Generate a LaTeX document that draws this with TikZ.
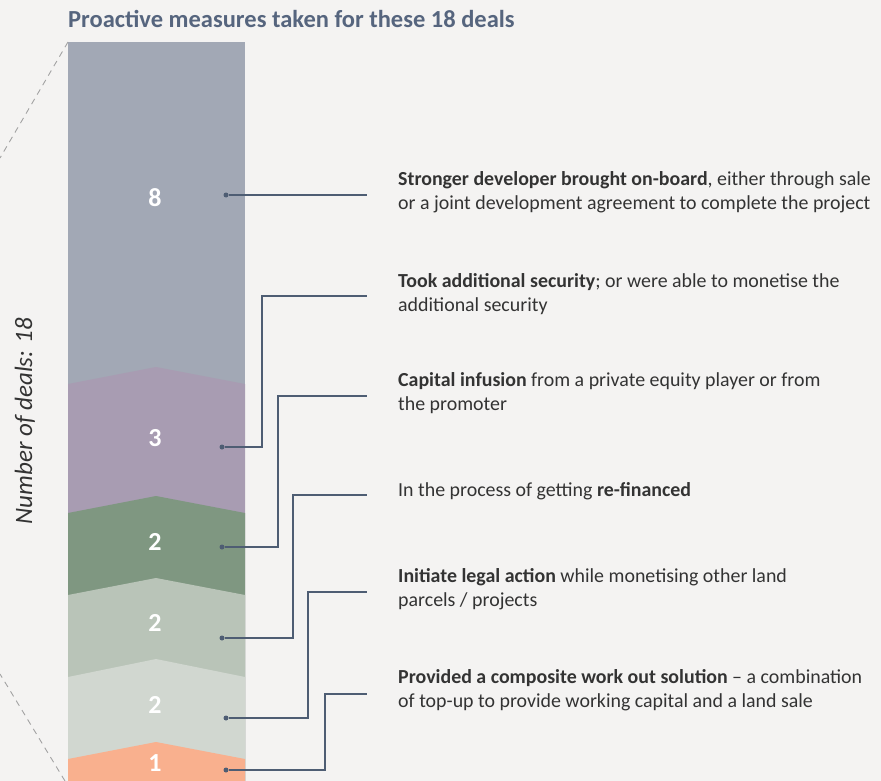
\documentclass[tikz,border=0pt]{standalone}
\usepackage{fontspec}
\setmainfont{Carlito}
\usetikzlibrary{calc,positioning}

\definecolor{bgcol}{HTML}{F4F3F2}
\definecolor{titlecol}{HTML}{56657E}
\definecolor{txtcol}{HTML}{333333}
\definecolor{linkcol}{HTML}{4E5D73}
\definecolor{guidecol}{HTML}{A3A3A3}
\definecolor{segA}{HTML}{A2A8B5}
\definecolor{segB}{HTML}{A89CB2}
\definecolor{segC}{HTML}{7F9781}
\definecolor{segD}{HTML}{B9C4B8}
\definecolor{segE}{HTML}{D1D7D0}
\definecolor{segF}{HTML}{F9B08E}

\tikzset{
  count/.style={text=white,font=\fontsize{26}{26}\selectfont\bfseries,inner sep=0pt},
  dot/.style={circle,fill=linkcol,inner sep=0pt,minimum size=5pt},
  link/.style={draw=linkcol,line width=1.5pt},
  item/.style={text=txtcol,font=\fontsize{19.9}{24}\selectfont,align=left,anchor=base west,inner sep=0pt},
  guide/.style={draw=guidecol,line width=0.9pt,dash pattern=on 6pt off 5pt}
}

\begin{document}
\begin{tikzpicture}[x=1pt,y=-1pt]

\useasboundingbox (0,0) rectangle (881,781);
\fill[bgcol] (0,0) rectangle (881,781);

\node[anchor=base west,inner sep=0pt,text=titlecol,font=\fontsize{24.5}{24.5}\selectfont\bfseries] (title) at (68,28) {Proactive measures taken for these 18 deals};

%the bar, each chevron laid over the one above it
\fill[segA] (68,42) rectangle (245,781);
\fill[segB] (68,384) -- (156,367) -- (245,384) -- (245,781) -- (68,781) -- cycle;
\fill[segC] (68,513) -- (156,496) -- (245,513) -- (245,781) -- (68,781) -- cycle;
\fill[segD] (68,595) -- (156,578) -- (245,595) -- (245,781) -- (68,781) -- cycle;
\fill[segE] (68,677) -- (156,659) -- (245,677) -- (245,781) -- (68,781) -- cycle;
\fill[segF] (68,759) -- (156,742) -- (245,759) -- (245,781) -- (68,781) -- cycle;

\draw[guide] (68,42) -- (0,158);
\draw[guide] (65,781) -- (0,674);

\node[rotate=90,text=txtcol,font=\fontsize{25}{25}\selectfont\itshape] (total) at (25,421) {Number of deals: 18};

%counts
\node[count] (n1) at (155,198) {8};
\node[count] (n2) at (155,438) {3};
\node[count] (n3) at (155,542) {2};
\node[count] (n4) at (155,623) {2};
\node[count] (n5) at (155,705) {2};
\node[count] (n6) at (155,763) {1};

%dots
\node[dot] (d1) at (226,195) {};
\node[dot] (d2) at (222,447) {};
\node[dot] (d3) at (222,547) {};
\node[dot] (d4) at (222,638) {};
\node[dot] (d5) at (226,718) {};
\node[dot] (d6) at (226,770) {};

%bends and line ends
\coordinate (k2) at (262,296);
\coordinate (k3) at (278,396);
\coordinate (k4) at (293,495);
\coordinate (k5) at (308,592);
\coordinate (k6) at (325,694);
\coordinate (e1) at (367,195);
\coordinate (e2) at (367,296);
\coordinate (e3) at (367,396);
\coordinate (e4) at (367,495);
\coordinate (e5) at (367,592);
\coordinate (e6) at (367,694);

%texts (base anchor sits on the last line)
\node[item] (t1) at ([xshift=31pt,yshift=-14pt]e1) {\textbf{Stronger developer brought on-board}, either through sale\\or a joint development agreement to complete the project};
\node[item] (t2) at ([xshift=31pt,yshift=-15pt]e2) {\textbf{Took additional security}; or were able to monetise the\\additional security};
\node[item] (t3) at ([xshift=31pt,yshift=-14pt]e3) {\textbf{Capital infusion} from a private equity player or from\\the promoter};
\node[item] (t4) at ([xshift=31pt,yshift=-1pt]e4) {In the process of getting \textbf{re-financed}};
\node[item] (t5) at ([xshift=31pt,yshift=-14pt]e5) {\textbf{Initiate legal action} while monetising other land\\parcels / projects};
\node[item] (t6) at ([xshift=31pt,yshift=-13pt]e6) {\textbf{Provided a composite work out solution} -- a combination\\of top-up to provide working capital and a land sale};

%connectors
\draw[link] (d1) -- (e1);
\draw[link] (d2) -| (k2) -- (e2);
\draw[link] (d3) -| (k3) -- (e3);
\draw[link] (d4) -| (k4) -- (e4);
\draw[link] (d5) -| (k5) -- (e5);
\draw[link] (d6) -| (k6) -- (e6);

\end{tikzpicture}
\end{document}
